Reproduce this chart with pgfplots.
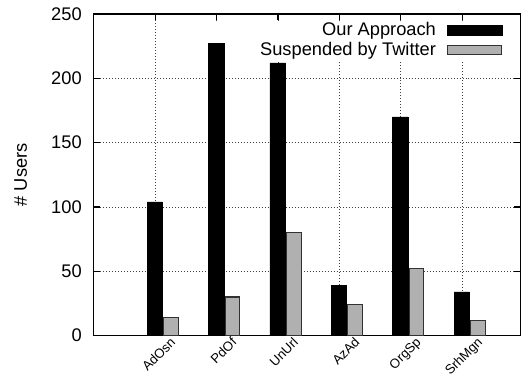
\documentclass[border=0pt]{standalone}
\usepackage{fontspec}
\setmainfont{Liberation Sans}
\usepackage{pgfplots}
\pgfplotsset{compat=1.18}
\definecolor{barg}{RGB}{176,176,176}
\definecolor{bedge}{RGB}{50,50,50}
\begin{document}
\fontsize{18.3}{22}\selectfont
\begin{tikzpicture}
\begin{axis}[
  scale only axis, width=427pt, height=322pt,
  xmin=0, xmax=6.95, ymin=0, ymax=250,
  xtick={1,...,6}, xticklabels={AdOsn,PdOf,UnUrl,AzAd,OrgSp,SrhMgn},
  ytick={0,50,...,250},
  tick align=inside, major tick length=6.5pt,
  tick pos=both,
  grid=major,
  grid style={black!75, line width=0.7pt, dash pattern=on 0.8pt off 2.2pt},
  axis line style={line width=1.1pt},
  every tick/.style={black, line width=1.1pt},
  /pgf/number format/assume math mode=true,
  yticklabel style={inner sep=0pt, xshift=-12pt},
  xticklabel style={font=\fontsize{13.2}{15}\selectfont, inner sep=0pt, anchor=base east, xshift=21pt, yshift=-7.5pt, rotate=45},
  every axis y label/.style={at={(axis description cs:0,0.5)}, xshift=-67pt, rotate=90, anchor=base, inner sep=0pt},
  ylabel={\# Users},
  legend plot pos=right,
  legend style={at={(axis description cs:1,1)}, anchor=north east, xshift=-18pt, yshift=-8.5pt,
    draw=none, fill=none, inner sep=0pt, row sep=3.3pt, column sep=11pt,
    nodes={inner sep=0pt}, cells={anchor=east}},
]
\coordinate (bl) at (rel axis cs:0,0);
\coordinate (tr) at (rel axis cs:1,1);
\addplot[fill=white, draw=none, forget plot] coordinates {(1.7,214.5) (6.87,214.5) (6.87,244.5) (1.7,244.5)} -- cycle;
\addplot[ybar, bar width=15.4pt, bar shift=-0.4pt, fill=black, draw=black, line width=0.4pt,
  legend image code/.code={\fill[black] (0pt,-5pt) rectangle (55pt,5pt);}]
  coordinates {(1,104) (2,227) (3,212) (4,39) (5,170) (6,34)};
\addlegendentry{Our Approach}
\addplot[ybar, bar width=14.6pt, bar shift=15.8pt, fill=barg, draw=bedge, line width=1.1pt,
  legend image code/.code={\draw[fill=barg, draw=bedge, line width=1.1pt] (0.5pt,-4.5pt) rectangle (54pt,4.5pt);}]
  coordinates {(1,14) (2,30) (3,80) (4,24) (5,52) (6,12)};
\addlegendentry{Suspended by Twitter}
\end{axis}
\path ([shift={(-94pt,-45pt)}]bl) rectangle ([shift={(0pt,14pt)}]tr);
\end{tikzpicture}
\end{document}
